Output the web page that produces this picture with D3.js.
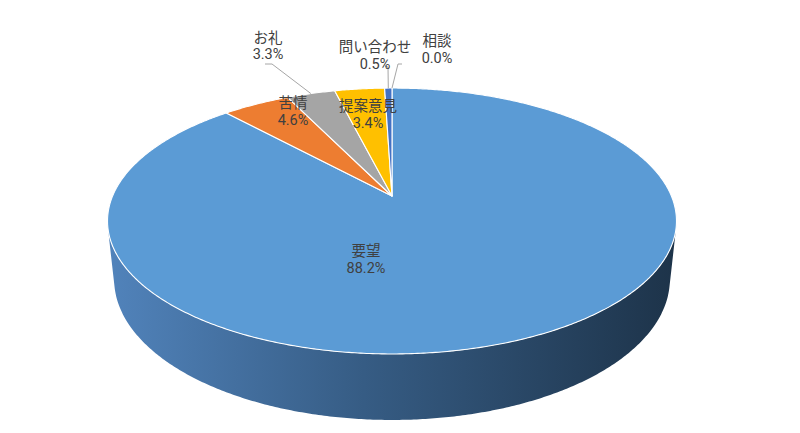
<!DOCTYPE html>
<html><head><meta charset="utf-8">
<script src="https://cdn.jsdelivr.net/npm/d3@7/dist/d3.min.js"></script>
<style>html,body{margin:0;padding:0;background:#fff;}svg{display:block;}</style>
</head><body>
<svg id="chart" width="800" height="433"></svg>
<script>
// ---- data ----
const categories = ["要望", "苦情", "お礼", "提案意見", "問い合わせ", "相談"];
const values = [88.2, 4.6, 3.3, 3.4, 0.5, 0.0];
const colors = ["#5b9bd5", "#ed7d31", "#a5a5a5", "#ffc000", "#4472c4", "#70ad47"];
// label layout (name line centre, percent line centre), leader start
const labelLayout = [
  {x: 366, y1: 249, y2: 268, leader: null},
  {x: 293, y1: 101, y2: 120, leader: null},
  {x: 268, y1: 36, y2: 54, leader: [[265, 64], [272, 64]]},
  {x: 368, y1: 104, y2: 123, leader: null},
  {x: 375, y1: 45, y2: 64, leader: [[385, 66], [388, 67]]},
  {x: 437, y1: 39, y2: 58, leader: [[402, 64], [398, 64]]}
];

// ---- 3D projection (perspective) ----
const CX = 392, CY = 196;
const R = 0.2117, F = 1319.8, H = 0.0501;
const S = 0.459, Cc = Math.sqrt(1 - S * S);
function proj(theta, rf, Y) {
  const u = R * rf * Math.sin(theta), v = R * rf * Math.cos(theta);
  const depth = 1 - Y * S + v * Cc;
  const up = Y * Cc + v * S;
  return [CX + F * u / depth, CY - F * up / depth];
}

const svg = d3.select("#chart");
const defs = svg.append("defs");
const grad = defs.append("linearGradient").attr("id", "side")
  .attr("gradientUnits", "userSpaceOnUse").attr("x1", 108).attr("x2", 677).attr("y1", 0).attr("y2", 0);
grad.append("stop").attr("offset", "0%").attr("stop-color", "#5183bb");
grad.append("stop").attr("offset", "45%").attr("stop-color", "#365c84");
grad.append("stop").attr("offset", "100%").attr("stop-color", "#1d3349");

const pie = d3.pie().sort(null).value(d => d.value).startAngle(0).endAngle(2 * Math.PI);
const arcs = pie(categories.map((c, i) => ({name: c, value: values[i], color: colors[i], i})));
const line = d3.line();
const step = Math.PI / 360;

function sample(a0, a1) {
  const n = Math.max(1, Math.ceil((a1 - a0) / step));
  return d3.range(n + 1).map(k => a0 + (a1 - a0) * k / n);
}

// visible wall range
const cosLim = -R / Cc;
const vis0 = Math.acos(cosLim), vis1 = 2 * Math.PI - vis0;

// walls
const gWall = svg.append("g");
arcs.forEach(a => {
  if (a.value <= 0) return;
  const lo = Math.max(a.startAngle, vis0), hi = Math.min(a.endAngle, vis1);
  if (hi <= lo) return;
  const ts = sample(lo, hi);
  const pts = ts.map(t => proj(t, 1, 0)).concat(ts.slice().reverse().map(t => proj(t, 1, -H)));
  gWall.append("path").attr("d", line(pts) + "Z")
    .attr("fill", a.index === 0 ? "url(#side)" : d3.color(a.data.color).darker(1.2))
    .attr("stroke", "none");
});

// top faces
const gTop = svg.append("g");
arcs.forEach(a => {
  if (a.value <= 0) return;
  const ts = sample(a.startAngle, a.endAngle);
  const pts = [proj(0, 0, 0)].concat(ts.map(t => proj(t, 1, 0)));
  gTop.append("path").attr("d", line(pts) + "Z")
    .attr("fill", a.data.color).attr("stroke", "#ffffff").attr("stroke-width", 1.1)
    .attr("stroke-linejoin", "round");
});

// leader lines
const gLead = svg.append("g");
arcs.forEach((a, i) => {
  const L = labelLayout[i];
  if (!L.leader) return;
  const mid = (a.startAngle + a.endAngle) / 2;
  const end = proj(mid, 1, 0);
  gLead.append("path").attr("d", line(L.leader.concat([end])))
    .attr("fill", "none").attr("stroke", "#a6a6a6").attr("stroke-width", 1);
});

// labels
const gLab = svg.append("g")
  .attr("fill", "#404040").attr("text-anchor", "middle");
const total = d3.sum(values);
arcs.forEach((a, i) => {
  const L = labelLayout[i];
  gLab.append("text").attr("x", L.x).attr("y", L.y1).attr("dominant-baseline", "central")
    .attr("font-family", "'Noto Sans CJK JP', sans-serif").attr("font-size", 14.5)
    .text(a.data.name);
  gLab.append("text").attr("x", L.x).attr("y", L.y2).attr("dominant-baseline", "central")
    .attr("font-family", "'Liberation Sans Narrow', 'Roboto', 'Noto Sans CJK JP', sans-serif").attr("font-size", 14.5)
    .text((a.data.value / total * 100).toFixed(1) + "%");
});
</script>
</body></html>
